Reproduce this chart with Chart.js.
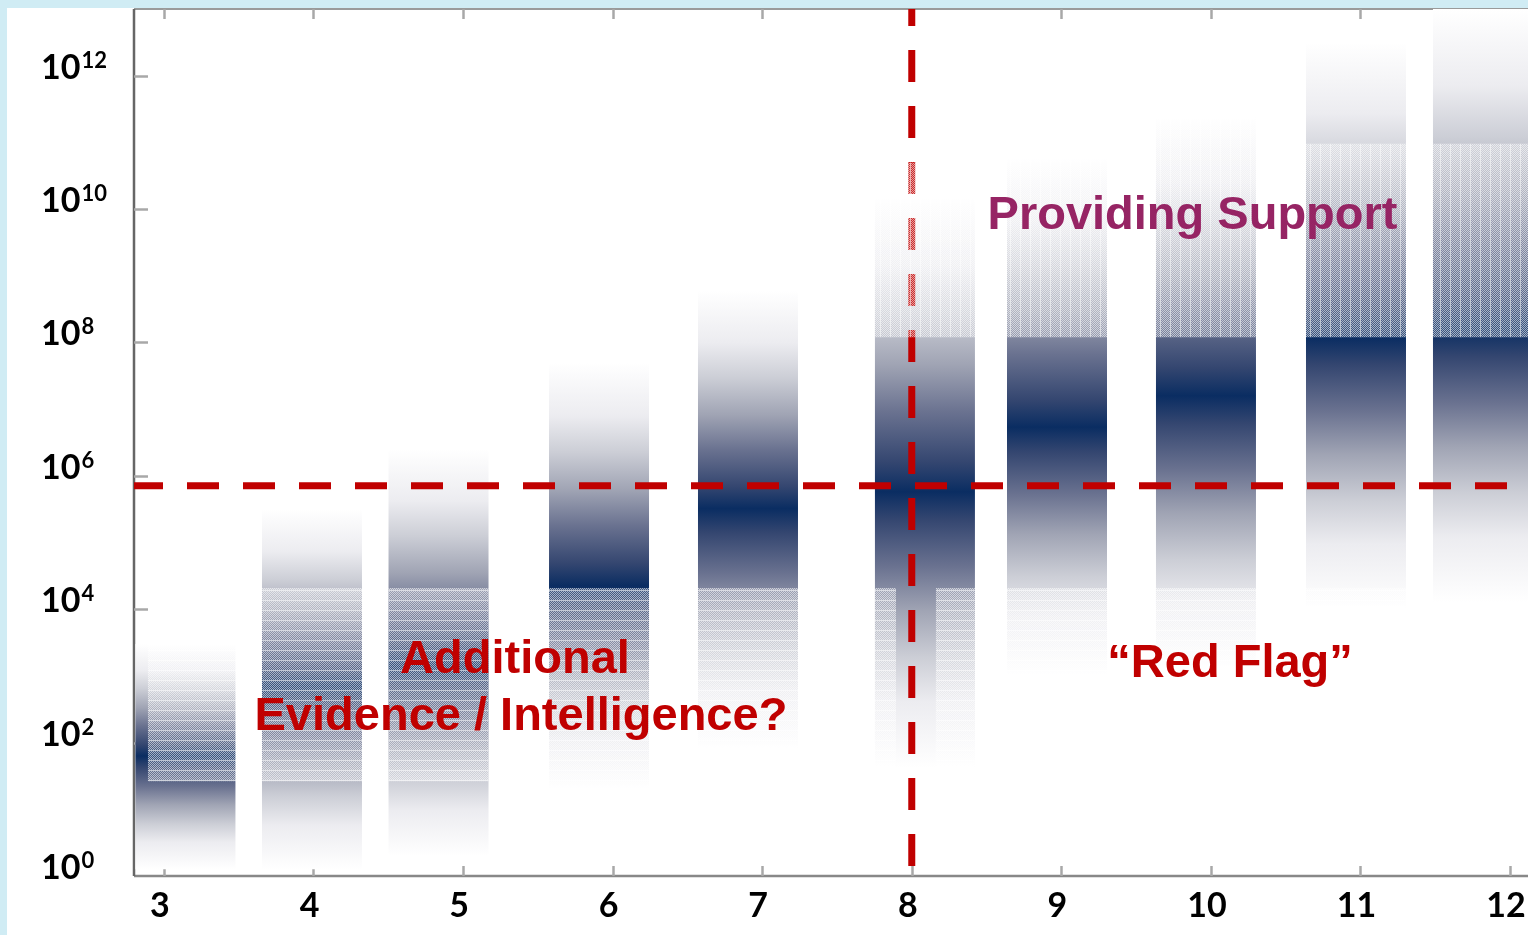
<!DOCTYPE html>
<html>
<head>
<meta charset="utf-8">
<script src="https://cdn.jsdelivr.net/npm/chart.js@4.4.1/dist/chart.umd.min.js"></script>
<style>
  html, body { margin: 0; padding: 0; background: #ffffff; }
  #wrap { width: 1528px; height: 935px; position: relative; }
</style>
</head>
<body>
<div id="wrap"><canvas id="chart"></canvas></div>
<script>
// ---------------- DATA ----------------
const categories = [3, 4, 5, 6, 7, 8, 9, 10, 11, 12];
const xTickLabels = ['3', '4', '5', '6', '7', '8', '9', '10', '11', '12'];
const yTickExponents = [0, 2, 4, 6, 8, 10, 12];

// x position of each band (in score units) and its extent in log10 units
const barX      = [3.144, 3.990, 4.836, 5.909, 6.905, 8.088, 8.971, 9.967, 10.970, 11.819];
const coreLow   = [0.10, 0.10, 0.30, 1.30, 1.90, 1.62, 3.00, 3.10, 4.00, 4.10];
const coreHigh  = [3.48, 5.50, 6.40, 7.70, 8.78, 10.20, 10.78, 11.40, 12.50, 13.00];
const corePeak  = [1.80, 2.85, 3.15, 4.35, 5.51, 5.76, 6.73, 7.20, 8.07, 8.20];

// "uncertain" (hazy) sub-ranges, log10 units
const lowerHazeLow  = [1.42, 1.42, 1.42, 1.30, 1.90, 1.62, 3.00, 3.10, 4.00, null];
const lowerHazeHigh = [3.48, 4.32, 4.32, 4.32, 4.32, 4.32, 4.32, 4.32, 4.32, null];
const upperHazeLow  = [null, null, null, null, null, 8.08, 8.08, 8.08, 8.08, 8.08];
const upperHazeHigh = [null, null, null, null, null, 10.70, 10.78, 11.40, 10.98, 10.98];

// threshold lines
const thresholdExponent = 5.85;   // horizontal "red flag" level (10^5.85)
const thresholdScore = 8;         // vertical line at score 8

const annotationTexts = {
  support: 'Providing Support',
  additional1: 'Additional',
  additional2: 'Evidence / Intelligence?',
  redFlag: '\u201CRed Flag\u201D'
};

// ---------------- STYLE ----------------
const NAVY_RAMP = [
  [0.00, 'rgb(10,45,98)'],
  [0.10, 'rgb(52,70,112)'],
  [0.27, 'rgb(106,114,144)'],
  [0.43, 'rgb(160,164,180)'],
  [0.60, 'rgb(204,206,214)'],
  [0.76, 'rgb(236,236,240)'],
  [1.00, 'rgb(255,255,255)']
];
const RED = '#c00000';
const PURPLE = '#962464';
const X_MIN = 2.8, X_MAX = 12.12;

const canvas = document.getElementById('chart');
const c2d = canvas.getContext('2d');

function makePattern(dir) {
  const pc = document.createElement('canvas');
  pc.width = 10; pc.height = 10;
  const g = pc.getContext('2d');
  const img = g.createImageData(10, 10);
  for (let yy = 0; yy < 10; yy++) {
    for (let xx = 0; xx < 10; xx++) {
      let a = ((xx + yy) % 2 === 0) ? 0.62 : 0.18;
      if ((dir === 'v' && xx === 0) || (dir === 'h' && yy === 0)) a = 0.7;
      const k = (yy * 10 + xx) * 4;
      img.data[k] = 255; img.data[k + 1] = 255; img.data[k + 2] = 255;
      img.data[k + 3] = Math.round(a * 255);
    }
  }
  g.putImageData(img, 0, 0);
  return c2d.createPattern(pc, 'repeat');
}
const hazeH = makePattern('h');
const hazeV = makePattern('v');

function coreFill(ctx) {
  const chart = ctx.chart;
  if (!chart.chartArea || ctx.type !== 'data') return 'rgba(0,0,0,0)';
  const ys = chart.scales.y;
  const i = ctx.dataIndex;
  const yTop = ys.getPixelForValue(Math.pow(10, coreHigh[i]));
  const yBot = ys.getPixelForValue(Math.pow(10, coreLow[i]));
  const yPk = ys.getPixelForValue(Math.pow(10, corePeak[i]));
  const g = chart.ctx.createLinearGradient(0, yTop, 0, yBot);
  const p = Math.min(1, Math.max(0, (yPk - yTop) / (yBot - yTop)));
  NAVY_RAMP.forEach(([t, c]) => g.addColorStop(p * (1 - t), c));
  NAVY_RAMP.forEach(([t, c]) => g.addColorStop(p + (1 - p) * t, c));
  return g;
}

const pow = v => Math.pow(10, v);

const coreData = barX.map((x, i) => ({ x: x, y: [pow(coreLow[i]), pow(coreHigh[i])] }));

const lowerHazeFull = [];
barX.forEach((x, i) => {
  if (lowerHazeLow[i] === null || i === 0 || i === 5) return;
  lowerHazeFull.push({ x: x, y: [pow(lowerHazeLow[i]), pow(lowerHazeHigh[i])] });
});
const lowerHazeBar3 = [{ x: barX[0] + 0.0435, y: [pow(lowerHazeLow[0]), pow(lowerHazeHigh[0])] }];
const lowerHazeBar8L = [{ x: barX[5] - 0.264, y: [pow(lowerHazeLow[5]), pow(lowerHazeHigh[5])] }];
const lowerHazeBar8R = [{ x: barX[5] + 0.204, y: [pow(lowerHazeLow[5]), pow(lowerHazeHigh[5])] }];

const upperHaze = [];
barX.forEach((x, i) => {
  if (upperHazeLow[i] === null) return;
  upperHaze.push({ x: x, y: [pow(upperHazeLow[i]), pow(upperHazeHigh[i])] });
});

const barCommon = { type: 'bar', grouped: false, borderWidth: 0, inflateAmount: 0 };

const datasets = [
  Object.assign({ label: 'core', data: coreData, backgroundColor: coreFill, barThickness: 100, order: 10 }, barCommon),
  { type: 'line', label: 'threshold', data: [{ x: X_MIN, y: pow(thresholdExponent) }, { x: X_MAX, y: pow(thresholdExponent) }],
    borderColor: RED, borderWidth: 7, borderDash: [32, 24], borderDashOffset: 3, pointRadius: 0, tension: 0, order: 5, borderCapStyle: 'butt' },
  { type: 'line', label: 'score8', data: [{ x: thresholdScore, y: pow(0.15) }, { x: thresholdScore, y: pow(13) }],
    borderColor: RED, borderWidth: 7, borderDash: [32, 24], borderDashOffset: 0, pointRadius: 0, tension: 0, order: 5, borderCapStyle: 'butt' },
  Object.assign({ label: 'hazeLow', data: lowerHazeFull, backgroundColor: hazeH, barThickness: 100, order: 2 }, barCommon),
  Object.assign({ label: 'hazeLow3', data: lowerHazeBar3, backgroundColor: hazeH, barThickness: 88, order: 2 }, barCommon),
  Object.assign({ label: 'hazeLow8L', data: lowerHazeBar8L, backgroundColor: hazeH, barThickness: 21, order: 2 }, barCommon),
  Object.assign({ label: 'hazeLow8R', data: lowerHazeBar8R, backgroundColor: hazeH, barThickness: 39, order: 2 }, barCommon),
  Object.assign({ label: 'hazeUp', data: upperHaze, backgroundColor: hazeV, barThickness: 100, order: 2 }, barCommon)
];

const TICK_FONT = 'bold 34px Lato, "Open Sans", "Liberation Sans", sans-serif';
const SUP_FONT = 'bold 22px Lato, "Open Sans", "Liberation Sans", sans-serif';
const ANNOT_FONT = 'bold 47px "Liberation Sans", Arial, sans-serif';

const framePlugin = {
  id: 'frame',
  beforeDraw(chart) {
    const ctx = chart.ctx;
    ctx.save();
    ctx.fillStyle = '#ffffff';
    ctx.fillRect(0, 0, chart.width, chart.height);
    ctx.fillStyle = '#d0ecf4';
    ctx.fillRect(0, 0, chart.width, 8);
    ctx.fillRect(0, 0, 7, chart.height);
    ctx.restore();
  },
  beforeDatasetsDraw(chart) {
    const ctx = chart.ctx;
    const a = chart.chartArea;
    const xs = chart.scales.x, ys = chart.scales.y;
    ctx.save();
    ctx.strokeStyle = '#9a9a9a'; ctx.lineWidth = 2;
    ctx.beginPath(); ctx.moveTo(a.left, a.top); ctx.lineTo(a.right, a.top); ctx.stroke();
    ctx.strokeStyle = '#888888'; ctx.lineWidth = 2.5;
    ctx.beginPath(); ctx.moveTo(a.left, a.bottom); ctx.lineTo(a.right, a.bottom); ctx.stroke();
    ctx.strokeStyle = '#666666'; ctx.lineWidth = 2.5;
    ctx.beginPath(); ctx.moveTo(a.left, a.top); ctx.lineTo(a.left, a.bottom); ctx.stroke();
    ctx.strokeStyle = '#a8a8a8'; ctx.lineWidth = 2.5;
    categories.forEach(v => {
      const px = Math.round(xs.getPixelForValue(v)) + 0.5;
      ctx.beginPath(); ctx.moveTo(px, a.bottom); ctx.lineTo(px, a.bottom - 10); ctx.stroke();
      ctx.beginPath(); ctx.moveTo(px, a.top); ctx.lineTo(px, a.top + 10); ctx.stroke();
    });
    yTickExponents.forEach(e => {
      if (e === 0) return;
      const py = Math.round(ys.getPixelForValue(pow(e))) + 0.5;
      ctx.beginPath(); ctx.moveTo(a.left, py); ctx.lineTo(a.left + 14, py); ctx.stroke();
    });
    ctx.restore();
  },
  afterDraw(chart) {
    const ctx = chart.ctx;
    const xs = chart.scales.x, ys = chart.scales.y;
    ctx.save();
    ctx.fillStyle = '#000000';
    ctx.textBaseline = 'alphabetic';
    yTickExponents.forEach(e => {
      const py = ys.getPixelForValue(pow(e));
      ctx.font = TICK_FONT;
      ctx.textAlign = 'left';
      const base = '10';
      const x0 = 41;
      ctx.fillText(base, x0, py + 3);
      const w = ctx.measureText(base).width;
      ctx.font = SUP_FONT;
      ctx.fillText(String(e), x0 + w + 1, py - 8);
    });
    ctx.font = TICK_FONT;
    ctx.textAlign = 'center';
    categories.forEach((v, i) => {
      const px = xs.getPixelForValue(v);
      ctx.fillText(xTickLabels[i], px - 4, 917);
    });
    ctx.font = ANNOT_FONT;
    ctx.textAlign = 'center';
    ctx.fillStyle = PURPLE;
    ctx.fillText(annotationTexts.support, xs.getPixelForValue(9.877), ys.getPixelForValue(pow(9.70)));
    ctx.fillStyle = RED;
    ctx.fillText(annotationTexts.additional1, xs.getPixelForValue(5.347), ys.getPixelForValue(pow(3.044)));
    ctx.fillText(annotationTexts.additional2, xs.getPixelForValue(5.387), ys.getPixelForValue(pow(2.189)));
    ctx.fillText(annotationTexts.redFlag, xs.getPixelForValue(10.128), ys.getPixelForValue(pow(2.984)));
    ctx.restore();
  }
};

new Chart(canvas, {
  type: 'bar',
  data: { datasets: datasets },
  options: {
    responsive: true,
    maintainAspectRatio: false,
    devicePixelRatio: 1,
    animation: false,
    events: [],
    layout: { padding: { left: 134, right: 0, top: 9, bottom: 59 } },
    plugins: { legend: { display: false }, tooltip: { enabled: false } },
    scales: {
      x: { type: 'linear', min: X_MIN, max: X_MAX, offset: false, display: false },
      y: { type: 'logarithmic', min: 1, max: pow(13), display: false }
    }
  },
  plugins: [framePlugin]
});
</script>
</body>
</html>
